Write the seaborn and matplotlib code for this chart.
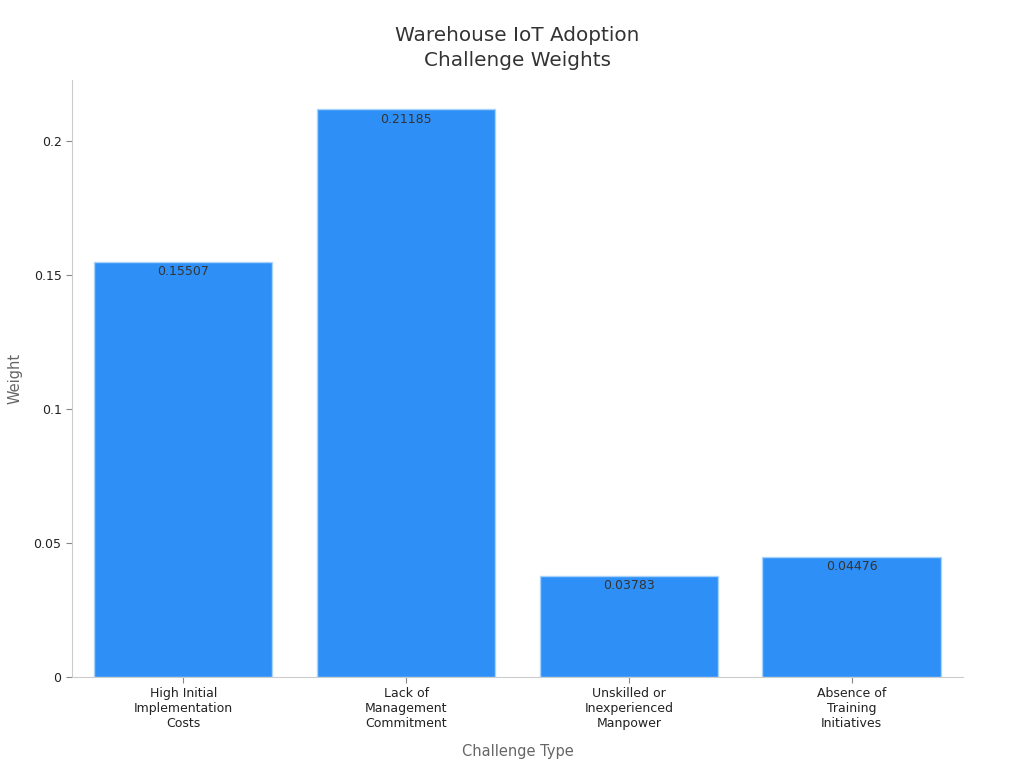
import seaborn as sns
import matplotlib.pyplot as plt
import pandas as pd

categories = ["High Initial\nImplementation\nCosts", "Lack of\nManagement\nCommitment",
              "Unskilled or\nInexperienced\nManpower", "Absence of\nTraining\nInitiatives"]
weights = [0.15507, 0.21185, 0.03783, 0.04476]

df = pd.DataFrame({"Challenge Type": categories, "Weight": weights})

sns.set_style("white")
plt.rcParams['font.family'] = ['DejaVu Sans']

fig = plt.figure(figsize=(10.24, 7.68), dpi=100)
ax = fig.add_axes([0.0703, 0.1185, 0.8701, 0.7773])

sns.barplot(data=df, x="Challenge Type", y="Weight", color="#2E90F7", saturation=1,
            width=0.8, edgecolor="#A9D3FB", linewidth=1, ax=ax)

for i, v in enumerate(weights):
    ax.text(i, v - 0.0012, f"{v}", ha="center", va="top", fontsize=9, color="#333333")

ax.set_xlim(-0.5, 3.5)
ax.set_ylim(0, 0.2228)
ax.set_yticks([0, 0.05, 0.1, 0.15, 0.2])
ax.set_yticklabels(["0", "0.05", "0.1", "0.15", "0.2"])
ax.tick_params(axis="both", labelsize=9, labelcolor="#222222", length=4, color="#888888",
               bottom=True, left=True)
sns.despine(ax=ax)
for s in ["left", "bottom"]:
    ax.spines[s].set_color("#CCCCCC")

ax.set_xlabel("Challenge Type", fontsize=10.5, color="#666666", labelpad=10)
ax.set_ylabel("Weight", fontsize=10.5, color="#666666", labelpad=8)
ax.set_title("Warehouse IoT Adoption\nChallenge Weights", fontsize=14.4, color="#333333",
             pad=10, linespacing=1.4)

fig.savefig("out.png", dpi=100)
